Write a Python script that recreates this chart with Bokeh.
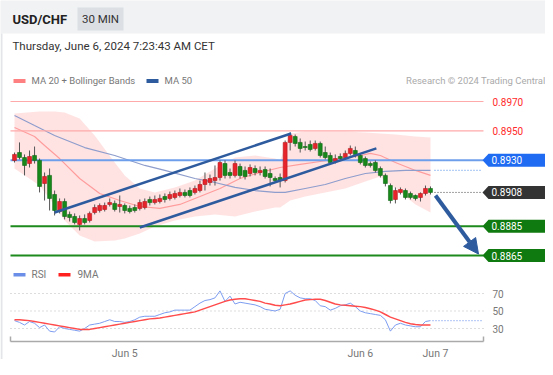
from bokeh.plotting import figure
from bokeh.models import Range1d, Label, Arrow, NormalHead
from bokeh.core.properties import value
from bokeh.embed import file_html
from bokeh.resources import INLINE

# ---------------- data ----------------
symbol = "USD/CHF"
timeframe = "30 MIN"
stamp = "Thursday, June 6, 2024 7:23:43 AM CET"

open_ = [0.89298, 0.89352, 0.89318, 0.89277, 0.89332, 0.89298, 0.89141, 0.89196, 0.89066, 0.88950,
         0.89018, 0.88930, 0.88916, 0.88862, 0.88902, 0.88889, 0.88943, 0.88957, 0.88964, 0.88998,
         0.89005, 0.88984, 0.88991, 0.88971, 0.88977, 0.88971, 0.88977, 0.89032, 0.89011, 0.89018,
         0.89052, 0.89039, 0.89046, 0.89059, 0.89080, 0.89093, 0.89080, 0.89093, 0.89134, 0.89148,
         0.89161, 0.89182, 0.89277, 0.89216, 0.89196, 0.89257, 0.89230, 0.89209, 0.89243, 0.89216,
         0.89236, 0.89209, 0.89175, 0.89182, 0.89161, 0.89421, 0.89461, 0.89421, 0.89393, 0.89407,
         0.89380, 0.89414, 0.89352, 0.89332, 0.89291, 0.89325, 0.89318, 0.89346, 0.89366, 0.89332,
         0.89311, 0.89277, 0.89284, 0.89243, 0.89196, 0.89127, 0.89032, 0.89080, 0.89093, 0.89073,
         0.89059, 0.89046, 0.89073, 0.89107]
close = [0.89339, 0.89318, 0.89264, 0.89325, 0.89298, 0.89121, 0.89189, 0.89039, 0.88957, 0.89018,
         0.88916, 0.88909, 0.88875, 0.88902, 0.88875, 0.88937, 0.88977, 0.88991, 0.88991, 0.89011,
         0.88964, 0.88998, 0.88957, 0.88950, 0.88957, 0.89011, 0.89018, 0.89011, 0.89032, 0.89039,
         0.89032, 0.89066, 0.89073, 0.89080, 0.89059, 0.89059, 0.89107, 0.89134, 0.89168, 0.89175,
         0.89182, 0.89284, 0.89196, 0.89196, 0.89277, 0.89196, 0.89189, 0.89250, 0.89216, 0.89230,
         0.89189, 0.89182, 0.89161, 0.89161, 0.89421, 0.89468, 0.89414, 0.89380, 0.89386, 0.89373,
         0.89414, 0.89332, 0.89318, 0.89284, 0.89311, 0.89311, 0.89346, 0.89380, 0.89339, 0.89284,
         0.89264, 0.89264, 0.89230, 0.89196, 0.89141, 0.89025, 0.89093, 0.89100, 0.89046, 0.89046,
         0.89039, 0.89073, 0.89107, 0.89080]
high = [0.89352, 0.89421, 0.89339, 0.89366, 0.89393, 0.89311, 0.89216, 0.89243, 0.89093, 0.89039,
        0.89039, 0.88950, 0.88937, 0.88923, 0.88930, 0.88950, 0.88998, 0.89005, 0.89011, 0.89039,
        0.89025, 0.89059, 0.89005, 0.88991, 0.88998, 0.89032, 0.89039, 0.89052, 0.89059, 0.89066,
        0.89073, 0.89086, 0.89093, 0.89107, 0.89100, 0.89114, 0.89127, 0.89161, 0.89216, 0.89202,
        0.89264, 0.89298, 0.89298, 0.89243, 0.89298, 0.89277, 0.89257, 0.89271, 0.89264, 0.89257,
        0.89257, 0.89243, 0.89189, 0.89209, 0.89434, 0.89489, 0.89475, 0.89448, 0.89427, 0.89434,
        0.89434, 0.89427, 0.89393, 0.89352, 0.89339, 0.89346, 0.89366, 0.89400, 0.89393, 0.89346,
        0.89325, 0.89291, 0.89298, 0.89257, 0.89209, 0.89141, 0.89114, 0.89114, 0.89107, 0.89086,
        0.89066, 0.89080, 0.89127, 0.89121]
low = [0.89284, 0.89305, 0.89196, 0.89250, 0.89277, 0.89080, 0.89025, 0.88957, 0.88923, 0.88937,
       0.88896, 0.88882, 0.88862, 0.88821, 0.88862, 0.88875, 0.88930, 0.88943, 0.88950, 0.88984,
       0.88950, 0.88943, 0.88937, 0.88937, 0.88943, 0.88957, 0.88964, 0.88991, 0.88998, 0.89005,
       0.89011, 0.89025, 0.89032, 0.89046, 0.89046, 0.89046, 0.89066, 0.89080, 0.89093, 0.89127,
       0.89127, 0.89161, 0.89175, 0.89175, 0.89182, 0.89175, 0.89168, 0.89189, 0.89196, 0.89196,
       0.89175, 0.89121, 0.89148, 0.89114, 0.89148, 0.89366, 0.89393, 0.89352, 0.89366, 0.89359,
       0.89366, 0.89318, 0.89305, 0.89271, 0.89277, 0.89298, 0.89305, 0.89332, 0.89318, 0.89271,
       0.89250, 0.89250, 0.89216, 0.89182, 0.89121, 0.89005, 0.89005, 0.89066, 0.89032, 0.89032,
       0.89025, 0.89018, 0.89059, 0.89066]

ma20_idx = [0, 4, 6, 9, 13, 17, 21, 25, 29, 33, 37, 41, 45, 49, 53, 57, 61, 65, 69, 71, 73, 76, 80, 83]
ma20 = [0.89523, 0.89461, 0.89400, 0.89311, 0.89175, 0.89073, 0.89025, 0.88984, 0.88971, 0.88998,
        0.89052, 0.89107, 0.89175, 0.89216, 0.89250, 0.89271, 0.89291, 0.89311, 0.89332, 0.89346,
        0.89332, 0.89284, 0.89230, 0.89196]

bb_idx = [0, 5, 8, 10, 13, 16, 20, 22, 25, 28, 32, 36, 40, 44, 48, 52, 53, 55, 58, 62, 66, 70, 73, 76, 80, 83]
bb_upper = [0.89618, 0.89632, 0.89632, 0.89625, 0.89584, 0.89468, 0.89284, 0.89196, 0.89107, 0.89080,
            0.89114, 0.89161, 0.89243, 0.89318, 0.89332, 0.89311, 0.89298, 0.89482, 0.89495, 0.89495,
            0.89495, 0.89489, 0.89482, 0.89475, 0.89461, 0.89455]
bb_lower = [0.89243, 0.89127, 0.88991, 0.88889, 0.88787, 0.88746, 0.88752, 0.88766, 0.88800, 0.88848,
            0.88889, 0.88916, 0.88930, 0.88916, 0.88950, 0.88977, 0.88977, 0.89025, 0.89052, 0.89080,
            0.89107, 0.89155, 0.89189, 0.89107, 0.88998, 0.88943]

ma50_idx = [0, 4, 8, 14, 20, 26, 30, 36, 40, 44, 48, 52, 54, 58, 62, 66, 70, 74, 78, 83]
ma50 = [0.89605, 0.89536, 0.89468, 0.89386, 0.89332, 0.89264, 0.89230, 0.89175, 0.89148, 0.89114,
        0.89093, 0.89080, 0.89080, 0.89107, 0.89134, 0.89175, 0.89209, 0.89223, 0.89230, 0.89230]

# trend channel (index, price)
chan_x0 = [8, 25]
chan_y0 = [0.88943, 0.88841]
chan_x1 = [55.2, 72.2]
chan_y1 = [0.89482, 0.89380]

resist_levels = [0.8970, 0.8950]
pivot_level = 0.8930
last_price = 0.8908
support_levels = [0.8885, 0.8865]
target_price = 0.8866

rsi = [39, 37, 34, 38, 36, 31, 34, 27, 26, 32,
       30, 29, 28, 27, 30, 34, 35, 36, 38, 40,
       38, 38, 37, 38, 40, 43, 44, 44, 44, 46,
       48, 49, 51, 51, 51, 51, 55, 59, 62, 63,
       65, 73, 61, 67, 58, 60, 59, 58, 57, 55,
       52, 51, 50, 52, 70, 73, 68, 65, 64, 64,
       62, 56, 55, 51, 53, 56, 57, 59, 55, 50,
       48, 47, 46, 45, 40, 27, 34, 36, 34, 33,
       32, 32, 38, 39]
rsi_ma = [40, 40, 39.5, 39, 38, 37, 36, 35, 34, 33,
          32, 31, 30, 29, 29, 29, 30, 31, 32, 33,
          34, 35, 36, 37, 38, 39, 40, 41, 41.5, 42,
          43, 44, 45, 46, 47, 48, 49, 51, 53, 55,
          57, 59, 61, 62.5, 63.5, 64, 64, 63, 62, 61,
          59, 58, 56.5, 56, 57, 58, 59.5, 61, 62.5, 63,
          63.5, 63.5, 62, 60, 58, 57, 56.5, 56, 55.5, 55,
          54, 52.5, 51, 49, 46, 43, 41, 39, 37, 35.5,
          34.5, 34, 34, 34]
rsi_levels = [70, 50, 30]
day_ticks = [22, 69, 84]
day_labels = ["Jun 5", "Jun 6", "Jun 7"]

# ---------------- geometry helpers (reference pixel -> data) ----------------
X_FIRST, X_STEP = 14.0, 5.012      # x of first candle, px per candle
PX_PER_UNIT = 14667.0               # px per 1.0 of price
RSI_SHIFT = 7                       # RSI panel raised a little to fit the window


def ix(X):
    return (X - X_FIRST) / X_STEP


def py(Y):
    return 0.8970 - (Y - 101) / PX_PER_UNIT


def ry(Y):
    return 50 - (Y - 317.5) / 0.875


FONT = "Roboto"
W, H = 545, 359

p = figure(width=W, height=H, x_range=Range1d(ix(0), ix(W)),
           y_range=Range1d(py(H), py(0)),
           x_axis_type=None, y_axis_type=None, toolbar_location=None,
           output_backend="svg", min_border=0)
p.extra_y_ranges = {"rsi": Range1d(ry(H + RSI_SHIFT), ry(RSI_SHIFT))}
p.outline_line_color = None
p.background_fill_color = "white"
p.border_fill_color = "white"


def label(x, y, text, size="11px", color="#333333", align="left", style="normal", rng=None):
    kw = dict(x=x, y=y, text=text, text_font=FONT,
              text_font_size=size, text_color=color, text_align=align,
              text_baseline="middle", text_font_style=style)
    if rng:
        kw["y_range_name"] = rng
    p.add_layout(Label(**kw))


# header and frame border
p.quad(left=ix(-5), right=ix(560), top=py(-5), bottom=py(33), fill_color="#f1f2f4", line_color=None)
p.segment(x0=[ix(1)], x1=[ix(1)], y0=[py(33)], y1=[py(400)], line_color="#e3e5e8", line_width=2)
p.quad(left=ix(77), right=ix(123), top=py(7), bottom=py(30), fill_color="#dcdfe4", line_color=None)
label(ix(12), py(18.5), symbol, size="13px", color="#222222", style="bold")
label(ix(100), py(18.5), timeframe, size="11.5px", color="#333333", align="center")
label(ix(12), py(45), stamp, size="11.5px", color="#333333")

# legend
p.quad(left=ix(13), right=ix(25), top=py(78.5), bottom=py(82.5), fill_color="#ff8080", line_color=None)
label(ix(31), py(80), "MA 20 + Bollinger Bands", size="9.5px", color="#777777")
p.quad(left=ix(146), right=ix(158), top=py(78.5), bottom=py(82.5), fill_color="#2e5b9e", line_color=None)
label(ix(164), py(80), "MA 50", size="9.5px", color="#777777")
label(ix(545), py(80), "Research \u00a9 2024 Trading Central", size="9.5px", color="#aaaaaa", align="right")

# bollinger band + moving averages
p.varea(x=bb_idx, y1=bb_lower, y2=bb_upper, fill_color="#ffdada", fill_alpha=0.75)
p.line(ma20_idx, ma20, line_color="#ff9d9d", line_width=1.2)
p.line(ma50_idx, ma50, line_color="#8e9dcc", line_width=1.2)

# horizontal levels
xl, xr = ix(10), ix(483)
for lv in resist_levels:
    p.segment(x0=[xl], x1=[xr], y0=[lv], y1=[lv], line_color="#ffaaaa", line_width=1.2)
p.segment(x0=[xl], x1=[xr], y0=[pivot_level], y1=[pivot_level], line_color="#6d9eeb", line_width=2)
for lv in support_levels:
    p.segment(x0=[xl], x1=[xr], y0=[lv], y1=[lv], line_color="#1d8a1d", line_width=2)

# candles
idx = list(range(len(open_)))
colors = ["#e8242b" if c > o else "#17891b" for o, c in zip(open_, close)]
edges = ["#b31a1f" if c > o else "#0f6612" for o, c in zip(open_, close)]
p.segment(x0=idx, y0=high, x1=idx, y1=low, line_color="#555555", line_width=1)
p.vbar(x=idx, width=0.78, top=[max(o, c) for o, c in zip(open_, close)],
       bottom=[min(o, c) for o, c in zip(open_, close)], fill_color=colors, line_color=edges, line_width=0.6)

# channel
p.segment(x0=chan_x0, y0=chan_y0, x1=chan_x1, y1=chan_y1, line_color="#2e5b9e", line_width=2.5)

# dotted extensions
p.segment(x0=[ix(434)], x1=[ix(482)], y0=[ma50[-1]], y1=[ma50[-1]], line_color="#6d9eeb",
          line_width=1.2, line_dash="1 2")
p.segment(x0=[ix(434)], x1=[ix(482)], y0=[last_price], y1=[last_price], line_color="#444444",
          line_width=1, line_dash="1 2")

# right labels
for lv in resist_levels:
    label(ix(492), lv, f"{lv:.4f}", size="10px", color="#ff2a2a")

hh = 6.5 / PX_PER_UNIT
for lv, col in [(pivot_level, "#1f6bf2"), (last_price, "#333333"),
                (support_levels[0], "#0f7a0f"), (support_levels[1], "#0f7a0f")]:
    p.patch(x=[ix(482), ix(488), ix(560), ix(560), ix(488)],
            y=[lv, lv + hh, lv + hh, lv - hh, lv - hh], fill_color=col, line_color=None)
    label(ix(491), lv, f"{lv:.4f}", size="10px", color="white")

# forecast arrow
p.add_layout(Arrow(x_start=ix(435), y_start=py(195), x_end=ix(478), y_end=target_price,
                   line_color="#2e5b9e", line_width=4,
                   end=NormalHead(size=15, fill_color="#2e5b9e", line_color="#2e5b9e")))

# ---------------- RSI panel ----------------
p.quad(left=ix(13), right=ix(25), top=ry(279.5), bottom=ry(283), fill_color="#6b8fe8",
       line_color=None, y_range_name="rsi")
label(ix(31), ry(281), "RSI", size="10px", color="#777777", rng="rsi")
p.quad(left=ix(58), right=ix(70), top=ry(279.5), bottom=ry(283), fill_color="#ff2020",
       line_color=None, y_range_name="rsi")
label(ix(77), ry(281), "9MA", size="10px", color="#777777", rng="rsi")

for lv in rsi_levels:
    p.segment(x0=[ix(10)], x1=[ix(483)], y0=[lv], y1=[lv], line_color="#bbbbbb",
              line_width=1, line_dash="1 3", y_range_name="rsi")
    label(ix(492), lv, str(lv), size="10px", color="#777777", rng="rsi")

p.line(idx, rsi, line_color="#7d9df0", line_width=1, y_range_name="rsi")
p.line(idx, rsi_ma, line_color="#ff4b4b", line_width=1.5, y_range_name="rsi")
p.segment(x0=[ix(432)], x1=[ix(483)], y0=[rsi[-1]], y1=[rsi[-1]], line_color="#7d9df0",
          line_width=1.2, line_dash="1 2", y_range_name="rsi")

# time axis
ya = ry(348)
p.segment(x0=[ix(10)], x1=[ix(483)], y0=[ya], y1=[ya], line_color="#aaaaaa", line_width=1.5,
          y_range_name="rsi")
p.segment(x0=[ix(10), ix(483)], x1=[ix(10), ix(483)], y0=[ya, ya], y1=[ry(343), ry(343)],
          line_color="#aaaaaa", line_width=1.5, y_range_name="rsi")
p.text(x=day_ticks, y=[ry(360)] * len(day_ticks), text=day_labels, text_font=value(FONT),
       text_font_size="10.5px", text_color="#777777", text_align="center",
       text_baseline="middle", y_range_name="rsi")

open("out.html", "w").write(file_html(p, INLINE))
